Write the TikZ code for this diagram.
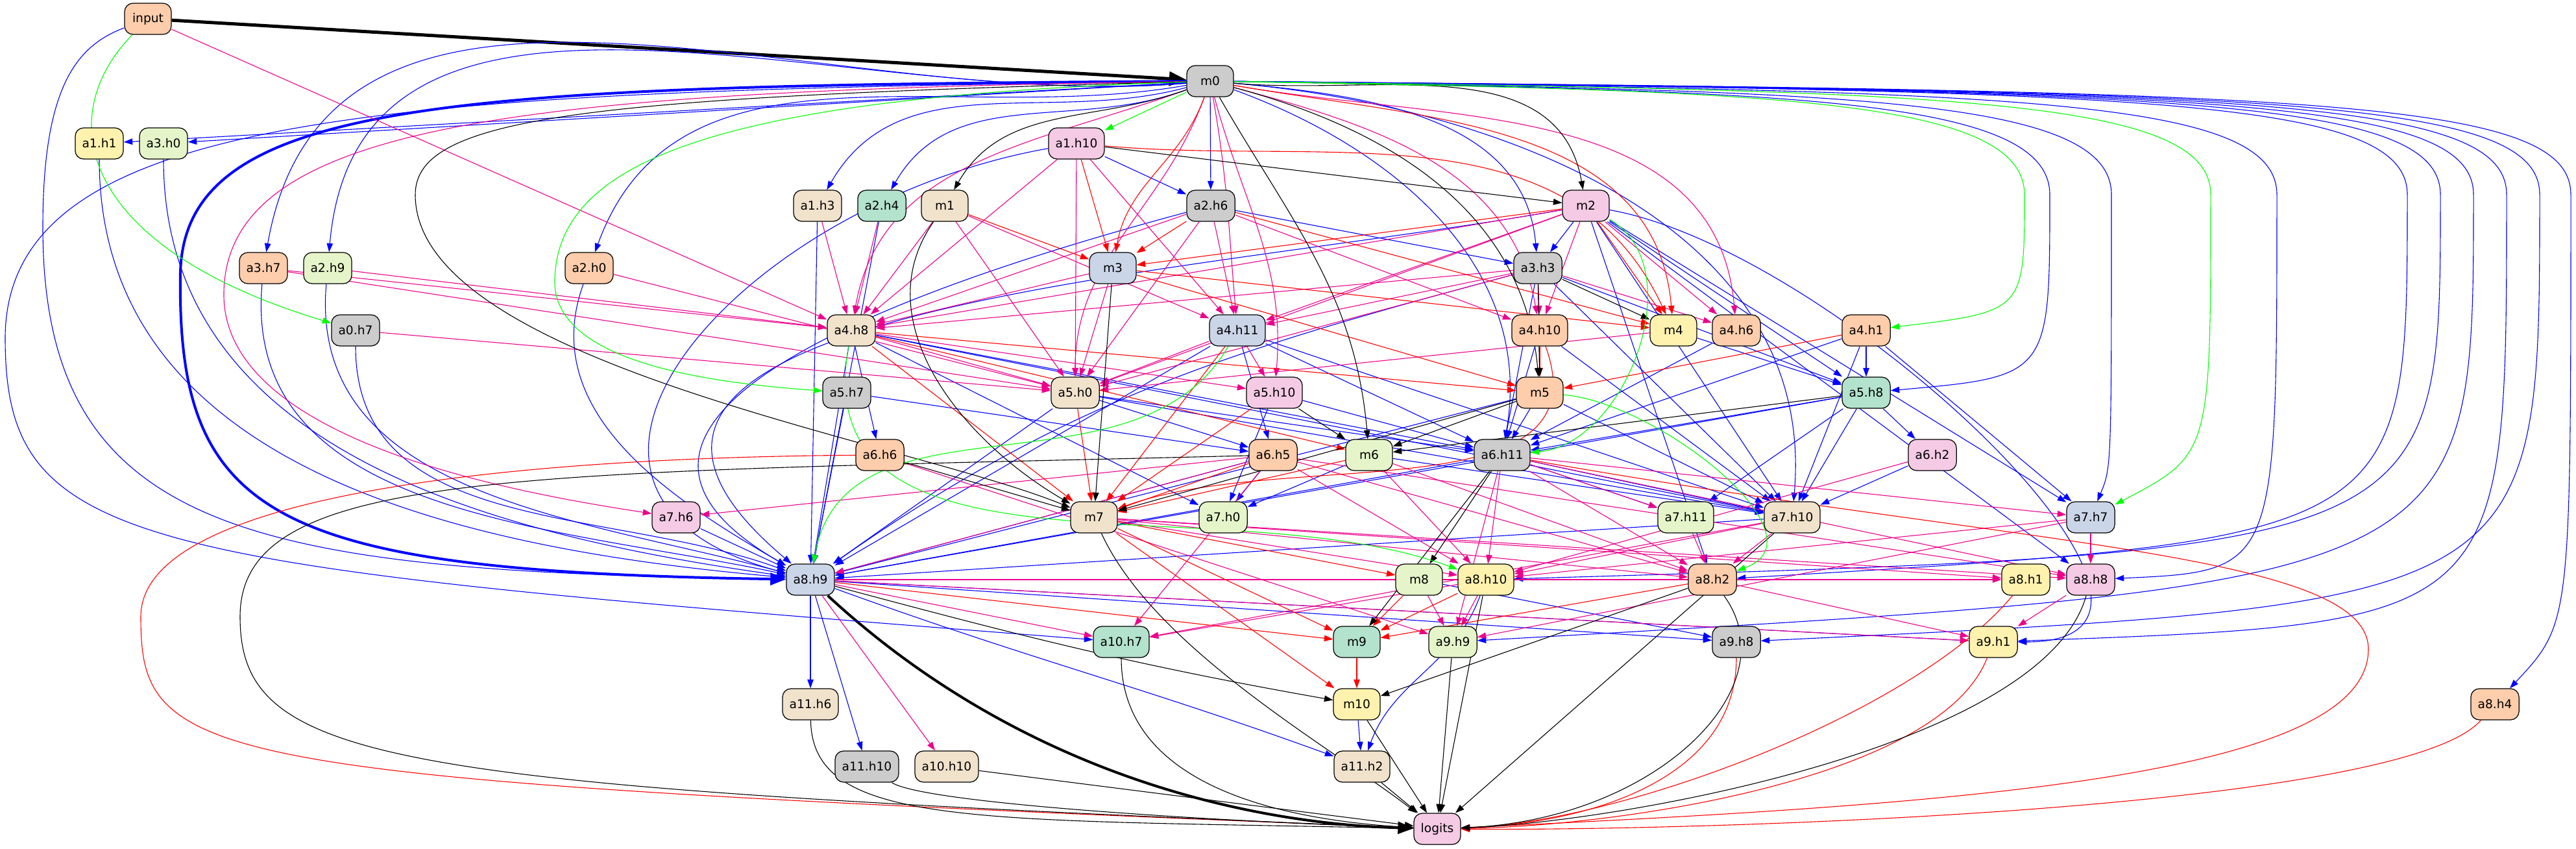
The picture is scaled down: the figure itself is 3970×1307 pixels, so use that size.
\documentclass[tikz,border=0pt]{standalone}
\usepackage{fontspec}
\setmainfont{DejaVu Sans}
\usetikzlibrary{arrows.meta, backgrounds}
\definecolor{gvpeach}{HTML}{FDCDAC}
\definecolor{gvgray}{HTML}{CCCCCC}
\definecolor{gvlime}{HTML}{E6F5C9}
\definecolor{gvyellow}{HTML}{FFF2AE}
\definecolor{gvpink}{HTML}{F4CAE4}
\definecolor{gvslate}{HTML}{CBD5E8}
\definecolor{gvteal}{HTML}{B3E2CD}
\definecolor{gvsand}{HTML}{F1E2CC}

\begin{document}
\begin{tikzpicture}[x=0.2pt, y=-0.2pt,
    gnode/.style={draw, line width=0.25pt, rounded corners=2.6pt, minimum width=14.4pt,
                  minimum height=9.6pt, inner xsep=2.13pt, inner ysep=1.07pt,
                  font=\fontsize{3.73}{4.3}\selectfont},
    wire/.style={line width=0.22pt, -{Triangle[length=2.7pt, width=1.9pt]}},
    vwire/.style={wire, blue}, kwire/.style={wire, magenta},
    qwire/.style={wire, red}, mwire/.style={wire, black}, gwire/.style={wire, green}]
    \useasboundingbox (0,0) rectangle (3970,1307);
    % nodes, row by row
    \foreach \n/\l/\x/\y/\c in {
        input/input/228/29/gvpeach, m0/m0/1865/125/gvgray,
        a1h1/a1.h1/153/221/gvyellow, a3h0/a3.h0/252/221/gvlime, a1h10/a1.h10/1659/221/gvpink,
        a1h3/a1.h3/1260/317/gvsand, a2h4/a2.h4/1359/317/gvteal, m1/m1/1456/317/gvsand,
        a2h6/a2.h6/1866/317/gvgray, m2/m2/2444/317/gvpink,
        a3h7/a3.h7/406/413/gvpeach, a2h9/a2.h9/505/413/gvlime, a2h0/a2.h0/908/413/gvpeach,
        m3/m3/1715/413/gvslate, a3h3/a3.h3/2370/413/gvgray,
        a0h7/a0.h7/548/509/gvgray, a4h8/a4.h8/1312/509/gvsand, a4h11/a4.h11/1907/509/gvslate,
        a4h10/a4.h10/2373/509/gvpeach, m4/m4/2579/509/gvyellow, a4h6/a4.h6/2676/509/gvpeach,
        a4h1/a4.h1/2876/509/gvpeach,
        a5h7/a5.h7/1305/605/gvgray, a5h0/a5.h0/1657/605/gvsand, a5h10/a5.h10/1964/605/gvpink,
        m5/m5/2373/605/gvpeach, a5h8/a5.h8/2876/605/gvteal,
        a6h6/a6.h6/1356/701/gvpeach, a6h5/a6.h5/1962/701/gvpeach, m6/m6/2110/701/gvlime,
        a6h11/a6.h11/2315/701/gvgray, a6h2/a6.h2/2978/701/gvpink,
        a7h6/a7.h6/1042/797/gvpink, m7/m7/1686/797/gvsand, a7h0/a7.h0/1885/797/gvlime,
        a7h11/a7.h11/2598/797/gvlime, a7h10/a7.h10/2762/797/gvsand, a7h7/a7.h7/3222/797/gvslate,
        a8h9/a8.h9/1249/893/gvslate, m8/m8/2187/893/gvlime, a8h10/a8.h10/2290/893/gvyellow,
        a8h2/a8.h2/2639/893/gvpeach, a8h1/a8.h1/3122/893/gvyellow, a8h8/a8.h8/3222/893/gvpink,
        a10h7/a10.h7/1728/989/gvteal, m9/m9/2091/989/gvteal, a9h9/a9.h9/2239/989/gvlime,
        a9h8/a9.h8/2676/989/gvgray, a9h1/a9.h1/3072/989/gvyellow,
        a11h6/a11.h6/1249/1085/gvsand, m10/m10/2091/1085/gvyellow, a8h4/a8.h4/3845/1085/gvpeach,
        a11h10/a11.h10/1336/1181/gvgray, a10h10/a10.h10/1459/1181/gvsand,
        a11h2/a11.h2/2099/1181/gvsand, logits/logits/2215/1277/gvpink}
      \node[gnode, fill=\c] (\n) at (\x,\y) {\l};

    \begin{scope}[on background layer]
    % thick spine
    \draw[mwire, line width=1pt, -{Triangle[length=5.3pt, width=4.3pt]}] (input) -- (m0);
    \draw[vwire, line width=0.8pt, -{Triangle[length=4.8pt, width=3.7pt]}] (m0)
      .. controls (700,132) and (285,150) .. (278,420) .. controls (272,800) and (420,880) .. (a8h9);
    \draw[mwire, line width=0.8pt, -{Triangle[length=4.8pt, width=3.7pt]}] (a8h9)
      .. controls (1560,1180) and (1900,1268) .. (logits);

    % value wires
    \foreach \s/\t in {m0/a1h1, m0/a3h0, m0/a2h6, a1h10/a2h6, m2/a3h3, a2h6/a3h3,
        a4h8/a6h6, a4h8/a6h11, a4h8/a7h0, a4h8/a7h10, a5h7/a6h5, a5h0/a6h5, a4h11/a6h5,
        a5h0/a6h11, a5h0/a7h10, a4h11/a6h11, a4h11/a7h10, a5h10/a6h11, a5h10/a7h0,
        m5/a6h11, m5/a7h10, a4h10/a6h11, a4h10/a7h10, a4h6/a6h11, a3h3/a6h11, a3h3/a7h10,
        a3h3/a5h8, m4/a5h8, a4h1/a5h8, a4h1/a6h11, a4h1/a7h10, a5h8/a6h2, a5h8/a6h11,
        a5h8/a7h11, a5h8/a7h10, a6h2/a7h10, a6h5/a7h0, m6/a7h0, m6/a7h10, a6h11/a7h10,
        a6h11/a7h11, m2/a5h8, m2/a7h10, m2/a7h7, m2/a8h2, m2/a8h8, a4h1/a7h7,
        m8/a9h8, a8h9/a11h6, a8h9/a11h10, a8h9/a9h8, a8h9/a9h1, m10/a11h2,
        a1h3/a8h9, a2h4/a8h9, a4h8/a8h9, a5h7/a8h9, a5h0/a8h9, a4h11/a8h9, a6h5/a8h9,
        a7h6/a8h9, a7h10/a8h9, a6h11/a8h9, m5/a8h9, a5h8/a8h9}
      \draw[vwire] (\s) -- (\t);
    \foreach \s/\t/\o/\i/\lo in {m0/a3h7/185/80/1, m0/a2h9/185/85/1, m0/a2h0/190/70/1,
        m0/a1h3/195/60/1, m0/a2h4/200/60/1, m0/a3h3/-5/95/1, m0/a6h11/-20/80/1,
        m0/a7h10/-5/85/1, a1h1/a8h9/-90/175/1, a3h0/a8h9/-90/172/1, a3h7/a8h9/-95/168/1,
        a2h9/a8h9/-95/165/1, a0h7/a8h9/-90/160/1, a2h0/a8h9/-110/150/1,
        a1h10/a8h9/190/165/1.6, a2h6/a8h9/195/150/1.4, m2/a8h9/190/140/1.2,
        a3h3/a8h9/195/35/1, a8h9/a11h2/-20/160/1, a8h10/a11h2/-110/70/1, m2/a9h1/-10/0/1}
      \draw[vwire] (\s) to[out=\o, in=\i, looseness=\lo] (\t);
    \foreach \t/\x/\d in {a5h8/3159/580, a7h7/3254/720, a8h8/3509/880, a8h2/3710/830,
        a8h10/3761/850, a9h9/3812/900, a9h1/3863/960, a9h8/3914/930, a8h4/3962/960}
      \draw[vwire] (m0) .. controls ({\x-400},140) and (\x,150) .. (\x,300)
        .. controls (\x,\d) and (\x,\d) .. (\t);
    \draw[vwire] (input) .. controls (120,70) and (66,130) .. (66,350)
      .. controls (66,830) and (400,880) .. (a8h9);
    \draw[vwire] (m0) .. controls (600,140) and (10,170) .. (8,520)
      .. controls (8,850) and (200,870) .. (a10h7);

    % key wires
    \foreach \s/\t in {input/a4h8, a3h7/a4h8, a2h9/a4h8, m1/a4h8, a1h10/a4h8, a1h3/a4h8,
        a2h4/a4h8, a2h6/a4h8, m2/a4h8, m3/a4h8, a3h3/a4h8, a2h0/a5h0, a0h7/a5h0,
        a3h7/a5h0, m1/a5h0, a1h10/a5h0, a2h6/a5h0, m2/a5h0, m3/a5h0, a3h3/a5h0,
        a4h8/a5h0, a4h11/a5h0, m4/a5h0, a1h10/a4h11, a2h6/a4h11, m2/a4h11, a3h3/a4h11,
        m1/a4h11, a2h6/a4h10, m2/a4h10, a3h3/a4h10, m2/a4h6, a3h3/a4h6, a4h8/a5h10,
        a4h11/a5h10, a6h5/a7h6, m7/a8h10, m7/a8h2, m7/a8h1, m7/a8h8, a6h5/a8h10,
        a6h5/a8h2, a6h5/a8h8, a6h5/a10h7, a6h5/a8h9, a6h6/a9h9, a6h11/a7h11, a6h11/a7h7,
        a6h11/a8h10, a6h11/a8h2, a6h11/a8h8, a6h11/a9h9, m6/a8h10, m6/a8h2, a7h11/a8h2,
        a7h10/a8h10, a7h10/a8h2, a7h10/a10h7, a7h7/a8h8, a7h7/a8h10, a7h7/a9h9,
        a6h2/a8h10, a8h9/a10h7, a8h9/a10h10, a8h9/a8h1, a8h9/a9h1, m8/a9h9, a8h10/a9h9,
        a8h10/a10h7, a8h8/a9h1, a8h2/a9h1}
      \draw[kwire] (\s) -- (\t);
    \foreach \s/\t/\o/\i in {m0/a4h8/200/80, m0/a4h11/-80/95, m0/a5h0/250/90,
        m0/a5h10/-75/85, m0/a4h10/-15/100, m0/a4h6/-10/95}
      \draw[kwire] (\s) to[out=\o, in=\i] (\t);
    \draw[kwire] (m0) .. controls (800,140) and (350,190) .. (345,450)
      .. controls (340,680) and (800,760) .. (a7h6);

    % query wires
    \foreach \s/\t in {a1h10/m3, m1/m3, a2h6/m3, m2/m3, a2h6/m4, m2/m4, m3/m4, m3/m5,
        a4h8/m5, a4h10/m5, a4h1/m5, a4h8/m6, a4h8/m7, a5h0/m7, a5h10/m7, a6h5/m7,
        a4h11/m7, m6/m7, m7/m8, m7/m9, m7/m10, m8/m9, a8h10/m9, a8h2/m9, a8h9/m9, m9/m10}
      \draw[qwire] (\s) -- (\t);
    \foreach \s/\t/\o/\i in {m0/m3/250/80, m0/m4/-10/95, a1h10/m4/-5/115, a4h10/m7/-70/20}
      \draw[qwire] (\s) to[out=\o, in=\i] (\t);
    \foreach \s/\ax/\ay/\bx/\by in {a9h8/2676/1200/2450/1268, a9h1/2990/1200/2500/1272,
        a8h1/2950/1100/2500/1266, a8h4/3700/1250/2600/1280}
      \draw[qwire] (\s) .. controls (\ax,\ay) and (\bx,\by) .. (logits);
    \draw[qwire] (a6h6) .. controls (800,705) and (217,760) .. (217,950)
      .. controls (217,1180) and (300,1200) .. (logits);
    \draw[qwire] (a6h11) .. controls (3100,840) and (3650,850) .. (3650,1000)
      .. controls (3650,1200) and (3000,1240) .. (logits);

    % mlp wires
    \foreach \s/\t in {a1h10/m2, m3/m7, a6h6/m7, m5/m7, a3h3/m4, a3h3/m5, m5/m6, a5h8/m6,
        a5h10/m6, a6h11/m8, a6h11/m9, a8h2/m10, a11h2/logits, m10/logits, a9h9/logits,
        a8h10/logits, a7h10/logits, a10h10/logits}
      \draw[mwire] (\s) -- (\t);
    \foreach \s/\t/\o/\i in {m0/m1/200/60, m0/m2/-5/100, m0/m5/-15/95, m0/m6/-60/95,
        m1/m7/235/150, a8h9/m10/-15/170}
      \draw[mwire] (\s) to[out=\o, in=\i] (\t);
    \foreach \s/\ax/\ay/\bx/\by in {a11h6/1252/1275/1500/1262, a11h10/1420/1235/1800/1262,
        a10h7/1728/1200/1950/1262, m7/1780/1000/2050/1150, a8h2/2760/1060/2550/1262,
        a8h8/3150/1150/2500/1266}
      \draw[mwire] (\s) .. controls (\ax,\ay) and (\bx,\by) .. (logits);
    \draw[mwire] (m0) .. controls (900,150) and (640,180) .. (640,300)
      .. controls (640,560) and (1400,680) .. (m7);
    \draw[mwire] (a6h5) .. controls (800,730) and (370,720) .. (370,950)
      .. controls (370,1180) and (600,1210) .. (logits);

    % green wires
    \draw[gwire] (m0) -- (a1h10);
    \draw[gwire] (input) .. controls (80,180) and (120,380) .. (a0h7);
    \draw[gwire] (m0) .. controls (1100,150) and (860,250) .. (855,430)
      .. controls (850,560) and (1100,590) .. (a5h7);
    \foreach \t/\x/\d in {a4h1/3120/480, a7h7/3407/700}
      \draw[gwire] (m0) .. controls ({\x-400},140) and (\x,150) .. (\x,300)
        .. controls (\x,\d) and (\x,\d) .. (\t);
    \foreach \s/\t/\o/\i in {m2/a6h11/-30/5, a4h11/a8h9/-120/80, a4h8/a8h10/-100/160,
        m5/a8h2/-5/20}
      \draw[gwire] (\s) to[out=\o, in=\i] (\t);
    \end{scope}
\end{tikzpicture}
\end{document}
